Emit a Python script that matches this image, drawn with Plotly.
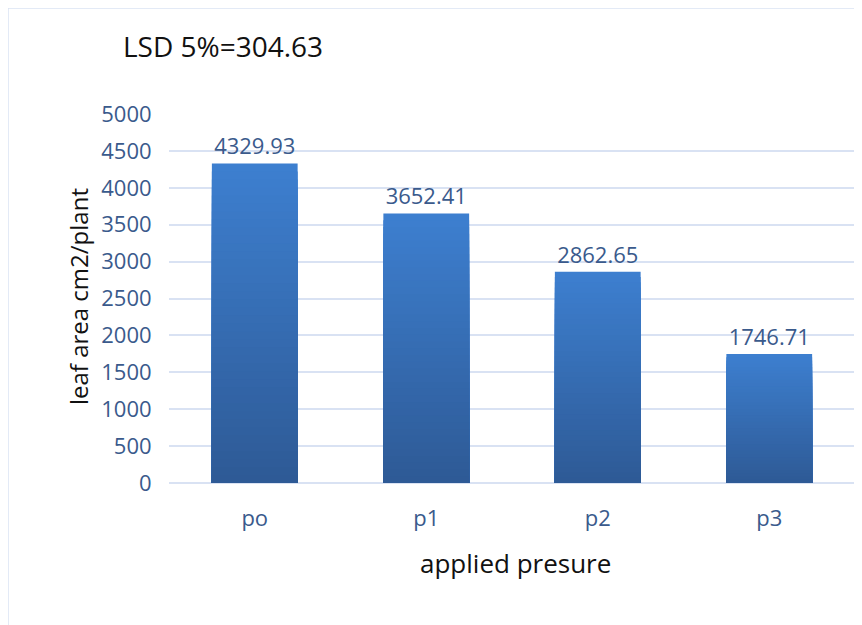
import plotly.graph_objects as go

categories = ["po", "p1", "p2", "p3"]
values = [4329.93, 3652.41, 2862.65, 1746.71]
value_labels = ["4329.93", "3652.41", "2862.65", "1746.71"]
y_ticks = [0, 500, 1000, 1500, 2000, 2500, 3000, 3500, 4000, 4500, 5000]

FONT = "Open Sans"
LABEL_BLUE = "#3a5a8c"
TOP = (61, 127, 207)
BOTTOM = (46, 90, 150)
N = 40

fig = go.Figure()
# gradient: overlay bars of decreasing height, each darker, so bottom is darkest
for k in range(N):
    frac = 1 - k / N
    t = k / (N - 1)
    c = tuple(round(TOP[i] + (BOTTOM[i] - TOP[i]) * t) for i in range(3))
    fig.add_trace(go.Bar(
        x=categories,
        y=[v * frac for v in values],
        marker=dict(color="rgb(%d,%d,%d)" % c, line=dict(width=0)),
        hoverinfo="skip",
        showlegend=False,
    ))
# labels
fig.add_trace(go.Bar(
    x=categories, y=values,
    marker=dict(color="rgba(0,0,0,0)", line=dict(width=0)),
    text=value_labels, textposition="outside",
    textfont=dict(family=FONT, size=22, color=LABEL_BLUE),
    cliponaxis=False, showlegend=False,
))

# page body has an 8px margin; plot area spans page x 169..855, y 114..483
fig.update_layout(
    width=854, height=617,
    margin=dict(l=161, r=7, t=106, b=142),
    paper_bgcolor="white", plot_bgcolor="white",
    barmode="overlay", bargap=0.5,
    font=dict(family=FONT),
    xaxis=dict(
        showgrid=False, showline=False, zeroline=False,
        tickfont=dict(family=FONT, size=22, color=LABEL_BLUE),
        ticks="outside", ticklen=16, tickcolor="rgba(0,0,0,0)",
    ),
    yaxis=dict(
        range=[0, 5000], tickvals=y_ticks,
        showgrid=True, gridcolor="#d9e2f3", gridwidth=1.5,
        zeroline=True, zerolinecolor="#d9e2f3", zerolinewidth=1.5,
        showline=False,
        tickfont=dict(family=FONT, size=22, color=LABEL_BLUE),
        ticks="outside", ticklen=12, tickcolor="rgba(0,0,0,0)",
    ),
    shapes=[dict(
        type="rect", xref="paper", yref="paper",
        x0=(8 - 169) / 686, x1=(875 - 169) / 686,
        y0=(483 - 640) / 369, y1=(483 - 8) / 369,
        line=dict(color="#dae3f3", width=1.5), layer="below",
    )],
    annotations=[
        dict(text="LSD 5%=304.63", xref="paper", yref="paper",
             x=(121 - 169) / 686, y=(483 - 46) / 369, xanchor="left", yanchor="middle",
             showarrow=False, font=dict(family=FONT, size=28, color="#111111")),
        dict(text="leaf area cm2/plant", xref="paper", yref="paper",
             x=(78 - 169) / 686, y=(483 - 297) / 369, xanchor="center", yanchor="middle",
             textangle=-90, showarrow=False,
             font=dict(family=FONT, size=24, color="#111111")),
        dict(text="applied presure", xref="paper", yref="paper",
             x=(515 - 169) / 686, y=(483 - 563) / 369, xanchor="center", yanchor="middle",
             showarrow=False, font=dict(family=FONT, size=26, color="#111111")),
    ],
)

fig.write_html("out.html")
